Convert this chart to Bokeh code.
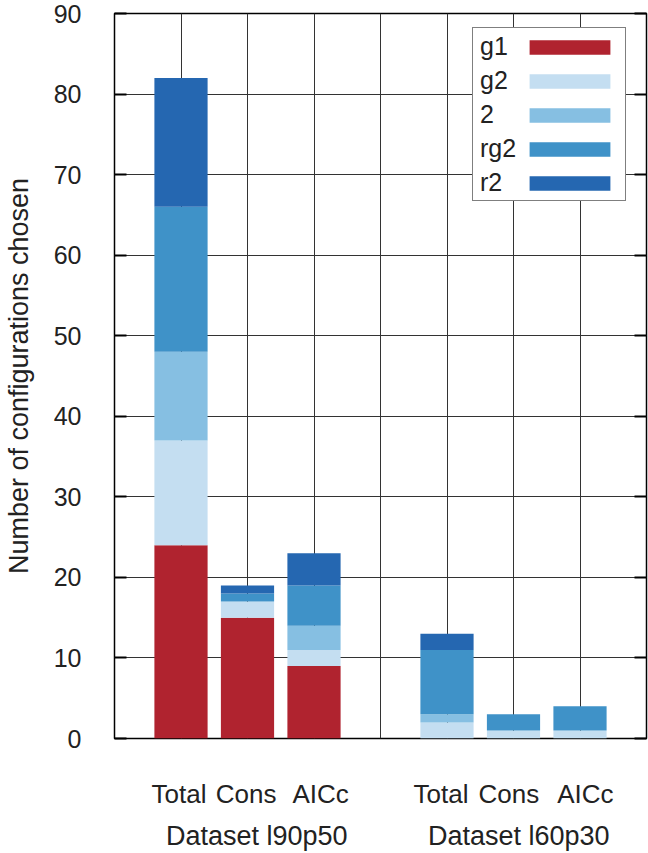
from bokeh.plotting import figure
from bokeh.models import (Range1d, FixedTicker, LinearAxis, Legend, LegendItem,
                          ColumnDataSource)
from bokeh.embed import file_html
from bokeh.resources import INLINE

# ---------------- data ----------------
methods = ["Total", "Cons", "AICc", "Total", "Cons", "AICc"]
datasets = ["Dataset l90p50", "Dataset l60p30"]
series = ["g1", "g2", "2", "rg2", "r2"]
g1 = [24, 15, 9, 0, 0, 0]
g2 = [13, 2, 2, 2, 1, 1]
s2 = [11, 0, 3, 1, 0, 0]
rg2 = [18, 1, 5, 8, 2, 3]
r2 = [16, 1, 4, 2, 0, 0]
y_ticks = [0, 10, 20, 30, 40, 50, 60, 70, 80, 90]
colors = ["#b0232f", "#c4def1", "#86bfe2", "#3f92c8", "#2567b1"]

# ---------------- layout helpers ----------------
GROUP = 3
x = [g * (GROUP + 1) + i + 1 for g in range(len(datasets)) for i in range(GROUP)]
group_centers = [g * (GROUP + 1) + (GROUP + 1) / 2 for g in range(len(datasets))]
label_shift = [-0.03, -0.02, 0.10, -0.09, -0.07, 0.08]
group_shift = [0.14, 0.08]
FONT = "Liberation Sans"
TXT = "#222222"

src = ColumnDataSource(dict(x=x, g1=g1, g2=g2, s2=s2, rg2=rg2, r2=r2))
stack_cols = ["g1", "g2", "s2", "rg2", "r2"]

p = figure(width=648, height=853, output_backend="svg", toolbar_location=None,
           x_range=Range1d(0, 8), y_range=Range1d(0, 90),
           min_border_left=113, min_border_right=2, min_border_top=13,
           min_border_bottom=115)
p.outline_line_color = "black"
p.outline_line_width = 1.5
p.background_fill_color = "white"
p.border_fill_color = "white"

bars = p.vbar_stack(stack_cols, x="x", width=0.8, source=src, color=colors,
                    line_color=None)

# y axis
p.yaxis.ticker = FixedTicker(ticks=y_ticks)
p.yaxis.axis_line_color = None
p.yaxis.major_tick_in = 12
p.yaxis.major_tick_out = 0
p.yaxis.major_tick_line_width = 2
p.yaxis.minor_tick_line_color = None
p.yaxis.major_label_standoff = 33
p.yaxis.major_label_text_font = FONT
p.yaxis.major_label_text_font_size = "25px"
p.yaxis.major_label_text_color = TXT
p.yaxis.axis_label = "Number of configurations chosen"
p.yaxis.axis_label_text_font = FONT
p.yaxis.axis_label_text_font_size = "27px"
p.yaxis.axis_label_text_font_style = "normal"
p.yaxis.axis_label_text_color = TXT
p.yaxis.axis_label_standoff = 17

# right axis (ticks only)
ra = LinearAxis(ticker=FixedTicker(ticks=y_ticks),
                major_label_overrides={t: "" for t in y_ticks})
ra.axis_line_color = None
ra.major_tick_in = 12
ra.major_tick_out = 0
ra.major_tick_line_width = 2
ra.minor_tick_line_color = None
ra.major_label_standoff = 0
ra.major_label_text_font_size = "1px"
p.add_layout(ra, "right")

# x axis: method labels
tick_pos = [xi + s for xi, s in zip(x, label_shift)]
p.xaxis.ticker = FixedTicker(ticks=tick_pos)
p.xaxis.major_label_overrides = {t: m for t, m in zip(tick_pos, methods)}
p.xaxis.axis_line_color = None
p.xaxis.major_tick_line_color = None
p.xaxis.major_tick_in = 0
p.xaxis.major_tick_out = 0
p.xaxis.minor_tick_line_color = None
p.xaxis.major_label_standoff = 40
p.xaxis.major_label_text_font = FONT
p.xaxis.major_label_text_font_size = "26px"
p.xaxis.major_label_text_color = TXT

# second x axis: dataset labels
gpos = [c + s for c, s in zip(group_centers, group_shift)]
da = LinearAxis(ticker=FixedTicker(ticks=gpos),
                major_label_overrides={t: d for t, d in zip(gpos, datasets)})
da.axis_line_color = None
da.major_tick_line_color = None
da.major_tick_in = 0
da.major_tick_out = 0
da.minor_tick_line_color = None
da.major_label_standoff = 9
da.major_label_text_font = FONT
da.major_label_text_font_size = "27px"
da.major_label_text_color = TXT
p.add_layout(da, "below")

# grids
p.xgrid.ticker = FixedTicker(ticks=list(range(1, 8)))
p.xgrid.grid_line_color = "#333333"
p.xgrid.grid_line_width = 1
p.ygrid.grid_line_color = "#333333"
p.ygrid.grid_line_width = 1

# legend: text part (with frame) + swatch part (to the right of text)
dummies = [p.vbar(x=[], top=[], width=0, fill_alpha=0, line_alpha=0) for _ in series]
leg_text = Legend(items=[LegendItem(label=s, renderers=[d]) for s, d in zip(series, dummies)],
                  location=(358, 537), padding=1, spacing=0, margin=0,
                  glyph_width=0, glyph_height=34, label_height=34,
                  label_width=144, label_standoff=6,
                  label_text_font=FONT, label_text_font_size="25px",
                  label_text_color=TXT,
                  border_line_color="black", border_line_width=1.5,
                  background_fill_color="white", background_fill_alpha=1)
leg_sw = Legend(items=[LegendItem(label=" ", renderers=[b]) for b in bars],
                location=(405, 546), padding=0, spacing=16, margin=0,
                glyph_width=101, glyph_height=18, label_height=0,
                label_width=0, label_standoff=0,
                label_text_font_size="1px",
                border_line_color=None, background_fill_alpha=0)
p.add_layout(leg_text, "center")
p.add_layout(leg_sw, "center")

open("out.html", "w").write(file_html(p, INLINE))
